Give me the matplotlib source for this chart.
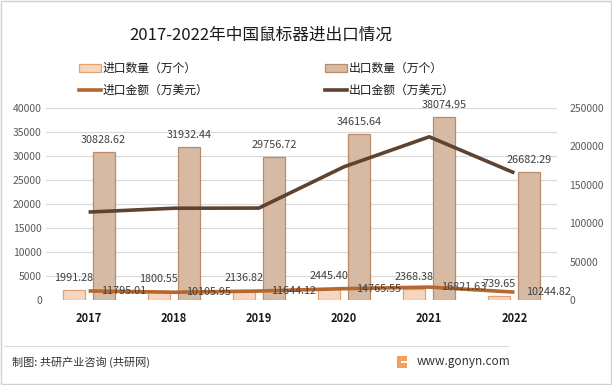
import matplotlib
matplotlib.use("Agg")
import matplotlib.pyplot as plt
from matplotlib.patches import Rectangle, Patch
from matplotlib.lines import Line2D
import numpy as np

plt.rcParams['font.family'] = ['Noto Sans CJK SC', 'DejaVu Sans']

years = ['2017', '2018', '2019', '2020', '2021', '2022']
import_qty = [1991.28, 1800.55, 2136.82, 2445.40, 2368.38, 739.65]
export_qty = [30828.62, 31932.44, 29756.72, 34615.64, 38074.95, 26682.29]
import_amt = [11795.01, 10105.95, 11644.12, 14765.55, 16821.63, 10244.82]
export_amt = [114500, 119500, 119700, 173500, 212500, 165500]

left_ticks = [0, 5000, 10000, 15000, 20000, 25000, 30000, 35000, 40000]
right_ticks = [0, 50000, 100000, 150000, 200000, 250000]

W, H = 612, 385
fig = plt.figure(figsize=(W / 100, H / 100), dpi=100)

def fx(px):
    return px / W

def fy(py):
    return 1 - py / H

ax = fig.add_axes([fx(46), fy(300), fx(557) - fx(46), fy(108) - fy(300)])
ax2 = ax.twinx()

x = np.arange(len(years))
bw = 0.26
off = 0.176
c_imp_fill, c_imp_edge = '#F6D6BE', '#E3A273'
c_exp_fill, c_exp_edge = '#D7BAA4', '#B98B6B'
c_imp_line, c_exp_line = '#B4672E', '#5E4331'

ax.bar(x - off, import_qty, bw, color=c_imp_fill, edgecolor=c_imp_edge, linewidth=0.9, zorder=2)
ax.bar(x + off, export_qty, bw, color=c_exp_fill, edgecolor=c_exp_edge, linewidth=0.9, zorder=2)

ax2.plot(x, import_amt, color=c_imp_line, lw=2.6, zorder=3, solid_capstyle='butt')
ax2.plot(x, export_amt, color=c_exp_line, lw=2.6, zorder=3, solid_capstyle='butt')

ax.set_xlim(-0.5, len(years) - 0.5)
ax.set_ylim(0, 40000)
ax2.set_ylim(0, 250000)
ax.set_yticks(left_ticks)
ax2.set_yticks(right_ticks)
ax.set_xticks(x)
ax.set_xticklabels(years, fontweight='bold', fontsize=8, color='#1a1a1a')
ax.grid(axis='y', color='#D9D9D9', lw=0.8, zorder=0)
ax.set_axisbelow(True)
for a in (ax, ax2):
    for s in a.spines.values():
        s.set_visible(False)
    a.tick_params(length=0)
ax.tick_params(axis='y', labelsize=7.5, labelcolor='#595959', pad=3)
ax2.tick_params(axis='y', labelsize=7.5, labelcolor='#595959', pad=9)
ax.tick_params(axis='x', pad=9)

lab_col = '#404040'
for xi, v in zip(x, import_qty):
    ax.annotate(f'{v:.2f}', (xi - off, v), xytext=(0, 12), textcoords='offset pixels',
                ha='center', va='center', fontsize=7.8, color=lab_col, zorder=5)
for xi, v in zip(x, export_qty):
    ax.annotate(f'{v:.2f}', (xi + off, v), xytext=(0, 12), textcoords='offset pixels',
                ha='center', va='center', fontsize=7.8, color=lab_col, zorder=5)
for xi, v in zip(x, import_amt):
    ax2.annotate(f'{v:.2f}', (xi, v), xytext=(12, 0), textcoords='offset pixels',
                 ha='left', va='center', fontsize=7.8, color=lab_col, zorder=5)

fig.text(fx(261), fy(35), '2017-2022年中国鼠标器进出口情况', ha='center', va='center',
         fontsize=12, color='#1a1a1a')

handles = [
    Patch(facecolor=c_imp_fill, edgecolor=c_imp_edge, linewidth=0.9),
    Line2D([0], [0], color=c_imp_line, lw=2.6),
    Patch(facecolor=c_exp_fill, edgecolor=c_exp_edge, linewidth=0.9),
    Line2D([0], [0], color=c_exp_line, lw=2.6),
]
labels = ['进口数量（万个）', '进口金额（万美元）', '出口数量（万个）', '出口金额（万美元）']
fig.legend(handles, labels, ncol=2, loc='upper left', bbox_to_anchor=(fx(71), fy(54)),
           frameon=False, fontsize=8.5, handlelength=1.85, handleheight=0.7,
           handletextpad=0.12, columnspacing=9.9, labelspacing=0.75,
           labelcolor='#1a1a1a', borderpad=0.2)

# footer
fig.add_artist(Line2D([fx(4), fx(508)], [fy(346), fy(346)], color='#D9D9D9', lw=0.8))
fig.text(fx(12), fy(362), '制图: 共研产业咨询 (共研网)', ha='left', va='center',
         fontsize=8, color='#333333')
fig.text(fx(510), fy(362), 'www.gonyn.com', ha='right', va='center',
         fontsize=8.5, color='#333333')
fig.add_artist(Rectangle((fx(397), fy(368)), fx(10), fy(356) - fy(368),
                         facecolor='#F5A05A', edgecolor='none'))
fig.add_artist(Rectangle((fx(401), fy(363)), fx(6), fy(361) - fy(363),
                         facecolor='white', edgecolor='none'))

fig.add_artist(Rectangle((0.002, 0.003), 0.996, 0.994, fill=False,
                         edgecolor='#D0D0D0', lw=1.0))

fig.savefig('out.png', dpi=100)
